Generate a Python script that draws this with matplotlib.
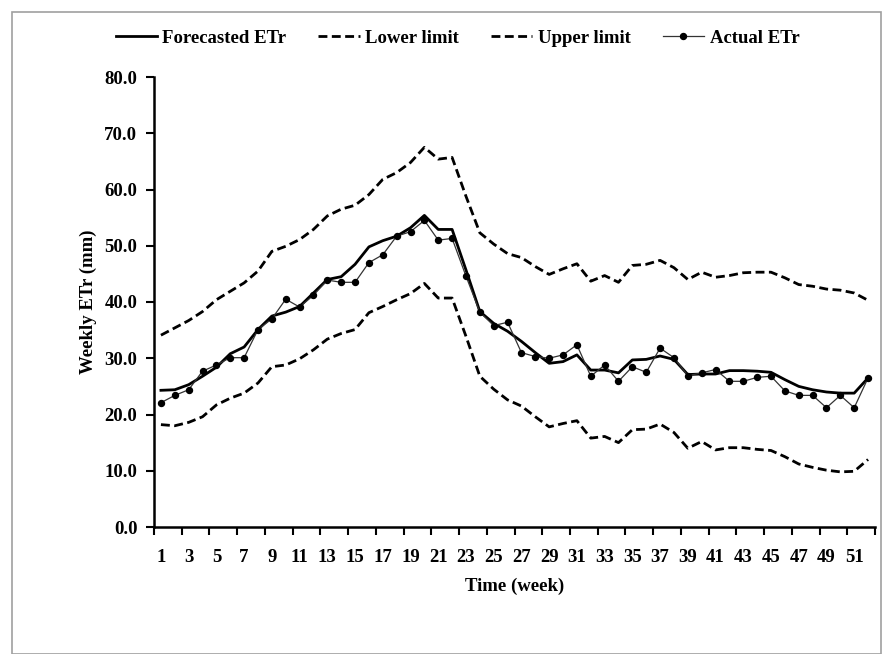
import matplotlib.pyplot as plt
from matplotlib.patches import Rectangle
from matplotlib.ticker import FixedLocator, NullFormatter

## Data ##

weeks = list(range(1, 53))

#Forecasted weekly ETr (mm)
forecast = [24.3, 24.4, 25.3, 26.8, 28.4, 30.8, 32.0, 35.1, 37.5, 38.2,
            39.2, 41.6, 44.0, 44.5, 46.7, 49.8, 50.9, 51.7, 53.2, 55.4,
            52.9, 52.9, 45.7, 38.3, 36.2, 34.8, 33.0, 31.0, 29.1, 29.4,
            30.6, 27.9, 27.9, 27.4, 29.7, 29.8, 30.4, 29.8, 27.1, 27.2,
            27.2, 27.8, 27.8, 27.7, 27.5, 26.2, 25.0, 24.4, 24.0, 23.8,
            23.8, 26.5]

#Lower limit
lower = [18.2, 18.0, 18.6, 19.6, 21.7, 22.9, 23.8, 25.6, 28.5, 28.8,
         29.9, 31.5, 33.4, 34.4, 35.1, 38.1, 39.2, 40.4, 41.5, 43.3,
         40.7, 40.7, 33.9, 26.8, 24.5, 22.6, 21.5, 19.6, 17.8, 18.4,
         18.9, 15.8, 16.1, 15.0, 17.3, 17.4, 18.3, 16.8, 14.0, 15.2,
         13.7, 14.1, 14.1, 13.8, 13.6, 12.5, 11.2, 10.6, 10.1, 9.8,
         9.9, 12.0]

#Upper limit
upper = [34.1, 35.4, 36.7, 38.3, 40.4, 41.9, 43.4, 45.5, 49.0, 49.9,
         51.1, 52.9, 55.3, 56.5, 57.2, 59.1, 61.8, 63.0, 64.8, 67.5,
         65.4, 65.7, 58.8, 52.3, 50.3, 48.6, 47.9, 46.3, 44.9, 45.9,
         46.8, 43.7, 44.7, 43.5, 46.5, 46.7, 47.4, 46.1, 44.0, 45.3,
         44.4, 44.7, 45.2, 45.3, 45.3, 44.3, 43.1, 42.8, 42.3, 42.1,
         41.6, 40.3]

#Actual weekly ETr (mm)
actual = [22.1, 23.4, 24.4, 27.7, 28.8, 30.1, 30.1, 35.1, 37.0, 40.5,
          39.1, 41.2, 43.9, 43.5, 43.5, 47.0, 48.4, 51.7, 52.5, 54.5,
          51.0, 51.3, 44.6, 38.2, 35.8, 36.4, 31.0, 30.3, 30.0, 30.6,
          32.4, 26.8, 28.8, 25.9, 28.5, 27.5, 31.8, 30.1, 26.9, 27.4,
          28.0, 25.9, 25.9, 26.6, 26.8, 24.2, 23.4, 23.4, 21.2, 23.4,
          21.2, 26.5]

y_ticks = [0, 10, 20, 30, 40, 50, 60, 70, 80]

## Figure ##

plt.rcParams['font.family'] = ['Liberation Serif', 'DejaVu Serif']
plt.rcParams['font.weight'] = 'bold'
fsize = 13.5

fig = plt.figure(figsize=(8.84, 6.54), dpi=100)
ax = fig.add_axes([154 / 884, 127 / 654, 721 / 884, 450 / 654])

#Grey frame round the chart
fig.patches.append(Rectangle((12 / 884, 0.0), 869 / 884, 642 / 654,
                             transform=fig.transFigure, fill=False,
                             edgecolor='#a0a0a0', linewidth=1.2))

dash = (0, (3.2, 1.6))
ax.plot(weeks, forecast, color='black', linewidth=2.0, label='Forecasted ETr')
ax.plot(weeks, lower, color='black', linewidth=2.0, linestyle=dash, label='Lower limit')
ax.plot(weeks, upper, color='black', linewidth=2.0, linestyle=dash, label='Upper limit')
ax.plot(weeks, actual, color='#333333', linewidth=0.9, marker='o', markersize=4.3,
        markerfacecolor='black', markeredgecolor='black', label='Actual ETr')

#Axes
ax.set_xlim(0.5, 52.5)
ax.set_ylim(0, 80)
ax.spines['top'].set_visible(False)
ax.spines['right'].set_visible(False)
ax.spines['left'].set_linewidth(1.8)
ax.spines['bottom'].set_linewidth(1.8)

ax.set_yticks(y_ticks)
ax.set_yticklabels(['%.1f' % v for v in y_ticks])

#Category axis: tick marks between weeks, labels on odd weeks
ax.xaxis.set_major_locator(FixedLocator([w + 0.5 for w in range(0, 53, 2)]))
ax.xaxis.set_major_formatter(NullFormatter())
ax.xaxis.set_minor_locator(FixedLocator(list(range(1, 53, 2))))
ax.set_xticklabels([str(w) for w in range(1, 53, 2)], minor=True)
ax.tick_params(axis='x', which='major', direction='out', length=6, width=1.5)
ax.tick_params(axis='x', which='minor', length=0, pad=16, labelsize=fsize)
ax.tick_params(axis='y', direction='out', length=6, width=1.5, labelsize=fsize, pad=6)

ax.set_xlabel('Time (week)', fontsize=fsize, fontweight='bold', labelpad=8)
ax.set_ylabel('Weekly ETr (mm)', fontsize=fsize, fontweight='bold', labelpad=5)

fig.legend(loc='center', bbox_to_anchor=(0.5175, 1 - 38 / 654), ncol=4, frameon=False,
           fontsize=fsize, handlelength=2.2, columnspacing=1.7, handletextpad=0.3)

plt.savefig('out.png', dpi=100)
